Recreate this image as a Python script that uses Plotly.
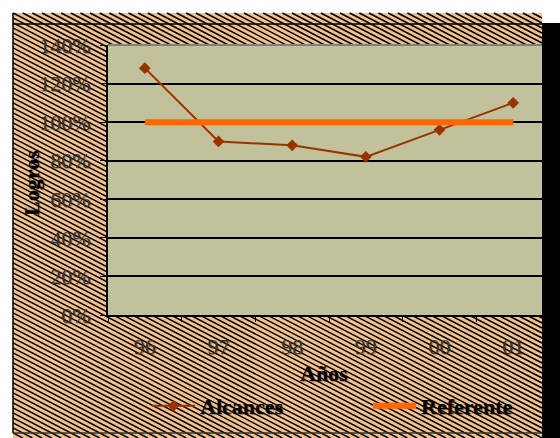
import plotly.graph_objects as go

# ---- data ----
years = ["96", "97", "98", "99", "00", "01"]
alcances = [1.28, 0.90, 0.88, 0.82, 0.96, 1.10]
referente = [1.00, 1.00, 1.00, 1.00, 1.00, 1.00]
y_ticks = [0, 0.2, 0.4, 0.6, 0.8, 1.0, 1.2, 1.4]
y_ticktext = ["0%", "20%", "40%", "60%", "80%", "100%", "120%", "140%"]

W, H = 560, 438
SERIF = "Liberation Serif, Times New Roman, serif"

def px(x):
    return x / W

def py(y):
    return 1 - y / H

# ---- hatch background (decoration) ----
X0, X1, Y0, Y1 = 13, 542, 13, 438
slope = 0.52
spacing = 5.0
segs = []
c = Y0 - slope * X1 - spacing
while c < Y1 - slope * X0 + spacing:
    pts = []
    for x in (X0, X1):
        y = slope * x + c
        if Y0 <= y <= Y1:
            pts.append((x, y))
    for y in (Y0, Y1):
        x = (y - c) / slope
        if X0 <= x <= X1:
            pts.append((x, y))
    if len(pts) >= 2:
        pts.sort()
        (ax, ay), (bx, by) = pts[0], pts[-1]
        segs.append(f"M{px(ax):.5f},{py(ay):.5f} L{px(bx):.5f},{py(by):.5f}")
    c += spacing
hatch_path = " ".join(segs)

shapes = [
    dict(type="rect", xref="paper", yref="paper", x0=px(X0), x1=px(X1), y0=py(Y1), y1=py(Y0),
         fillcolor="#f3c18c", line=dict(width=0), layer="below"),
    dict(type="path", xref="paper", yref="paper", path=hatch_path,
         line=dict(color="black", width=1.5), layer="below"),
    dict(type="rect", xref="x domain", yref="y domain", x0=0, x1=1, y0=0, y1=1,
         fillcolor="#c1c29b", line=dict(width=0), layer="below"),
    dict(type="line", xref="paper", yref="paper", x0=px(13), x1=px(13), y0=py(433), y1=py(13),
         line=dict(color="black", width=1.5), layer="above"),
    dict(type="line", xref="paper", yref="paper", x0=px(13), x1=px(542), y0=py(24), y1=py(24),
         line=dict(color="black", width=1.5), layer="above"),
    dict(type="line", xref="paper", yref="paper", x0=px(13), x1=px(542), y0=py(433), y1=py(433),
         line=dict(color="#333333", width=1.5), layer="above"),
    dict(type="line", xref="x domain", yref="y domain", x0=0, x1=1, y0=1, y1=1,
         line=dict(color="#808080", width=2), layer="above"),
    dict(type="rect", xref="paper", yref="paper", x0=px(542), x1=1.0, y0=0, y1=py(23),
         fillcolor="black", line=dict(width=0), layer="above"),
]

fig = go.Figure()
fig.add_trace(go.Scatter(
    x=years, y=alcances, name="Alcances", mode="lines+markers",
    line=dict(color="#993300", width=2),
    marker=dict(symbol="diamond", size=9, color="#993300"),
    legend="legend",
))
fig.add_trace(go.Scatter(
    x=years, y=referente, name="Referente", mode="lines",
    line=dict(color="#ff6600", width=6),
    legend="legend2",
))

tick_font = dict(family=SERIF, size=22, color="#333333",
                 shadow="1px 1px 1px rgba(0,0,0,0.35)")
bold_font = dict(family=SERIF, size=22, color="black", weight="bold",
                 shadow="1px 1px 1px rgba(0,0,0,0.4)")

leg_common = dict(orientation="h", yanchor="middle", xanchor="left",
                  font=bold_font, bgcolor="rgba(0,0,0,0)", borderwidth=0,
                  itemwidth=43)

fig.update_layout(
    width=W, height=H,
    autosize=False,
    margin=dict(l=0, r=0, t=0, b=0, pad=0, autoexpand=False),
    paper_bgcolor="white",
    plot_bgcolor="rgba(0,0,0,0)",
    shapes=shapes,
    showlegend=True,
    legend=dict(x=px(147), y=py(406), **leg_common),
    legend2=dict(x=px(368), y=py(406), **leg_common),
    xaxis=dict(
        type="category", domain=[px(108), px(550)], range=[-0.5, 5.5],
        showline=True, linecolor="black", linewidth=2,
        ticks="outside", ticklen=5, tickcolor="black", tickson="boundaries",
        tickfont=tick_font, ticklabelstandoff=11, showgrid=False,
        automargin=False, fixedrange=True,
    ),
    yaxis=dict(
        domain=[py(315), py(45)], range=[0, 1.4],
        tickvals=y_ticks, ticktext=y_ticktext,
        showline=True, linecolor="black", linewidth=2,
        ticks="outside", ticklen=6, tickcolor="black",
        tickfont=tick_font, ticklabelstandoff=5,
        showgrid=True, gridcolor="black", gridwidth=2, zeroline=False,
        automargin=False, fixedrange=True,
    ),
    annotations=[
        dict(text="Logros", xref="paper", yref="paper", x=px(31), y=py(183),
             showarrow=False, textangle=-90, font=bold_font, xanchor="center", yanchor="middle"),
        dict(text="Años", xref="paper", yref="paper", x=px(324), y=py(373),
             showarrow=False, font=bold_font, xanchor="center", yanchor="middle"),
    ],
)

fig.write_html("out.html",
               config={"responsive": False, "displayModeBar": False},
               post_script="document.body.style.margin='0';document.body.style.overflow='hidden';")
